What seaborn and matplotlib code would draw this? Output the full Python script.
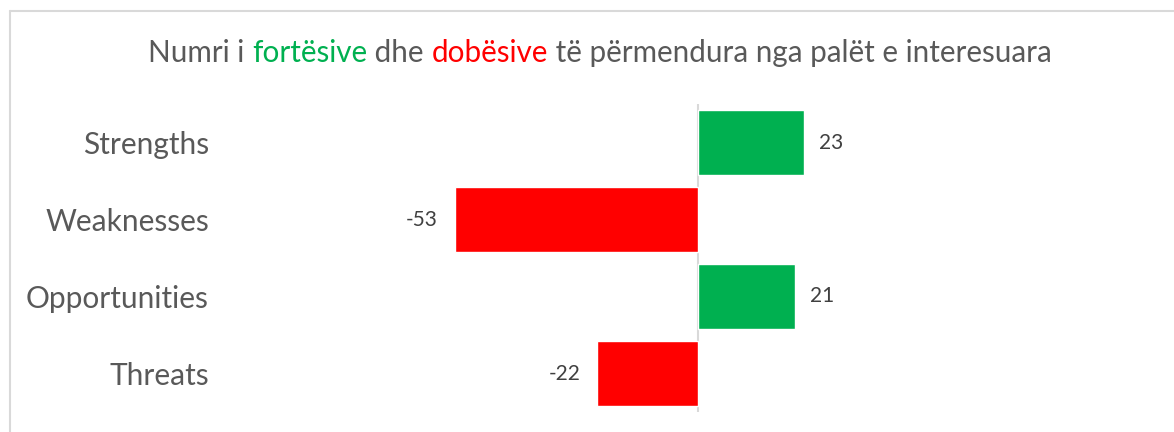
import numpy as np
import pandas as pd
import matplotlib
matplotlib.use('Agg')
import matplotlib.pyplot as plt
import seaborn as sns

# data
categories = ['Strengths', 'Weaknesses', 'Opportunities', 'Threats']
values = [23, -53, 21, -22]
title_parts = ['Numri i ', 'fortësive', ' dhe ', 'dobësive', ' të përmendura nga palët e interesuara']
title_colors = ['#595959', '#00B050', '#595959', '#FF0000', '#595959']

green = '#00B050'
red = '#FF0000'

df = pd.DataFrame({'cat': categories, 'val': values})
df['kind'] = np.where(df['val'] >= 0, 'pos', 'neg')

sns.set_style('white')
plt.rcParams['font.family'] = ['Lato', 'DejaVu Sans']

fig = plt.figure(figsize=(11.74, 4.32), dpi=100)
ax = fig.add_axes([220 / 1174, 20 / 432, 938 / 1174, 308 / 432])

sns.barplot(data=df, x='val', y='cat', hue='kind', palette={'pos': green, 'neg': red},
            orient='h', width=0.84, legend=False, dodge=False, ax=ax, saturation=1)

ax.set_xlim(-104, 100)
ax.set_ylim(3.5, -0.5)
ax.axvline(0, color='#d9d9d9', lw=1.5, zorder=0)
for s in ax.spines.values():
    s.set_visible(False)
ax.set_xticks([])
ax.set_xlabel('')
ax.set_ylabel('')
ax.tick_params(axis='y', length=0, pad=8, labelsize=21.5, labelcolor='#595959')

for i, v in enumerate(values):
    if v >= 0:
        ax.annotate(str(v), (v, i), xytext=(11, 0), textcoords='offset points',
                    ha='left', va='center', fontsize=15, color='#404040')
    else:
        ax.annotate(str(v), (v, i), xytext=(-12, 0), textcoords='offset points',
                    ha='right', va='center', fontsize=15, color='#404040')

# multi-colour title
fig.canvas.draw()
r = fig.canvas.get_renderer()
texts = []
for part, c in zip(title_parts, title_colors):
    t = fig.text(0, 1 - 53 / 432, part, color=c, fontsize=21.3, va='center', ha='left')
    texts.append(t)
widths = [t.get_window_extent(renderer=r).width for t in texts]
x0 = 600 - sum(widths) / 2
for t, w in zip(texts, widths):
    t.set_x(x0 / 1174)
    x0 += w

# outer frame (only left and top visible in the crop)
fig.add_artist(plt.Line2D([10 / 1174, 10 / 1174], [0, 1 - 11 / 432], color='#d9d9d9', lw=1.5))
fig.add_artist(plt.Line2D([10 / 1174, 1], [1 - 11 / 432, 1 - 11 / 432], color='#d9d9d9', lw=1.5))

fig.savefig('out.png', dpi=100)
